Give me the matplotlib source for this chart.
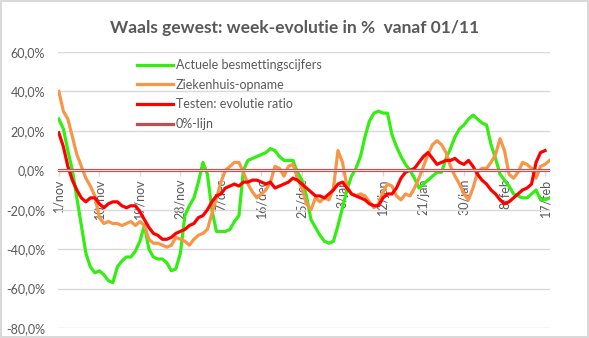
import numpy as np
import pandas as pd
import matplotlib
matplotlib.use("Agg")
import matplotlib.pyplot as plt
from matplotlib.ticker import FuncFormatter, MultipleLocator

# Week-evolution (%) per day, starting 1 November
dates = pd.date_range("2020-11-01", periods=110, freq="D")

besmettingen = [
    26, 21, 10, 0, -14, -28, -42, -49, -52, -51,
    -53, -56, -57, -49, -46, -44, -44, -41, -36, -28,
    -40, -44, -45, -45, -47, -51, -50, -42, -23, -18,
    -14, -6, 4, -2, -20, -31, -31, -31, -30, -26,
    -23, 0, 5, 6, 7, 8, 9, 11, 10, 7,
    5, 5, 5, -1, -5, -13, -25, -29, -33, -36,
    -37, -36, -28, -19, -10, -3, 1, 7, 17, 25,
    29, 30, 29, 29, 18, 12, 7, 3, 0, -4,
    -9, -7, -5, -3, -1, -1, 6, 11, 17, 21,
    23, 26, 28, 26, 24, 23, 13, 6, -2, -5,
    -8, -12, -13, -14, -14, -12, -10, -15, -15, -14,
]

ziekenhuis = [
    40, 30, 26, 17, 8, 2, -4, -8, -13, -24,
    -27, -26, -27, -27, -28, -27, -26, -28, -26, -28,
    -35, -37, -37, -38, -39, -38, -34, -35, -36, -38,
    -35, -33, -32, -30, -22, -14, -6, 0, 2, 4,
    4, -1, -7, -11, -14, -12, -10, -6, 2, 1,
    -3, 2, 3, -4, -9, -17, -20, -14, -16, -14,
    -15, -9, 10, 4, -8, -12, -13, -12, -13, -16,
    -19, -17, -11, -7, -8, -13, -15, -12, -13, -9,
    -4, 2, 8, 13, 15, 13, 9, 2, -3, -7,
    -12, -15, -9, -1, 1, 1, 4, 8, 16, 10,
    -2, -4, -1, 4, 3, 1, -4, 2, 3, 5,
]

testen = [
    19, 12, 2, -5, -10, -14, -16, -14, -14, -17,
    -19, -17, -16, -16, -18, -19, -18, -18, -21, -25,
    -29, -32, -33, -35, -35, -34, -32, -31, -30, -28,
    -27, -24, -23, -20, -16, -13, -12, -9, -8, -7,
    -8, -6, -6, -5, -5, -6, -7, -6, -9, -8,
    -7, -6, -4, -5, -7, -9, -11, -13, -13, -14,
    -12, -10, -7, -6, -9, -12, -13, -14, -15, -17,
    -18, -18, -14, -12, -12, -9, -4, -1, 0, 1,
    4, 7, 9, 6, 3, 4, 5, 5, 6, 4,
    3, 5, 2, -2, -5, -7, -10, -12, -15, -17,
    -16, -14, -12, -10, -9, -7, 4, 9, 10, np.nan,
]

nul_lijn = [0] * 110

tick_labels = ["1/nov", "10/nov", "19/nov", "28/nov", "7/dec", "16/dec",
               "25/dec", "3/jan", "12/jan", "21/jan", "30/jan", "8/feb", "17/feb"]

TEXT = "#595959"
GRID = "#D9D9D9"

plt.rcParams["font.family"] = ["Lato", "DejaVu Sans"]

fig = plt.figure(figsize=(5.89, 3.38), dpi=100, facecolor="white")
fig.patch.set_edgecolor(GRID)
fig.patch.set_linewidth(1.5)

ax = fig.add_axes([57.5 / 589, 1 - 328 / 338, (550 - 57.5) / 589, (328 - 52) / 338])

lw = 2.3
ax.plot(dates, besmettingen, color="#33EE11", lw=lw, label="Actuele besmettingscijfers")
ax.plot(dates, ziekenhuis, color="#F79646", lw=lw, label="Ziekenhuis-opname")
ax.plot(dates, testen, color="#FF0000", lw=lw, label="Testen: evolutie ratio")
ax.plot(dates, nul_lijn, color="#C0504D", lw=lw, label="0%-lijn")

# y axis: -80% .. 60% with light horizontal grid
ax.set_ylim(-80, 60)
ax.yaxis.set_major_locator(MultipleLocator(20))
ax.yaxis.set_major_formatter(FuncFormatter(lambda v, p: f"{v:.1f}%".replace(".", ",")))
ax.grid(axis="y", color=GRID, lw=1)
ax.set_axisbelow(True)
ax.tick_params(axis="y", length=0, pad=9, labelsize=9, labelcolor=TEXT)

# x axis crosses at 0, labels every 9 days, written upwards
step = pd.Timedelta(days=1)
ax.set_xlim(dates[0] - 0.3 * step, dates[0] + 109.1 * step)
ax.set_xticks(dates[::9])
ax.set_xticklabels(tick_labels)
ax.tick_params(axis="x", direction="out", length=4, width=1, color=GRID,
               pad=2, labelsize=9, labelcolor=TEXT, labelrotation=90)
for lbl in ax.get_xticklabels():
    lbl.set_ha("center")
    lbl.set_va("top")
ax.spines["bottom"].set_position(("data", 0))
ax.spines["bottom"].set_color(GRID)
for side in ["left", "right", "top"]:
    ax.spines[side].set_visible(False)

ax.legend(loc="upper left", bbox_to_anchor=(137 / 589, 1 - 59 / 338),
          bbox_transform=fig.transFigure, frameon=False, fontsize=9,
          handlelength=2.9, handletextpad=0.2, labelspacing=0.62,
          borderpad=0, borderaxespad=0, labelcolor=TEXT)

fig.text(0.5, 1 - 28 / 338, "Waals gewest: week-evolutie in %  vanaf 01/11",
         ha="center", va="center", fontsize=12.5, fontweight="bold", color=TEXT)

fig.savefig("out.png", dpi=100, facecolor="white")
